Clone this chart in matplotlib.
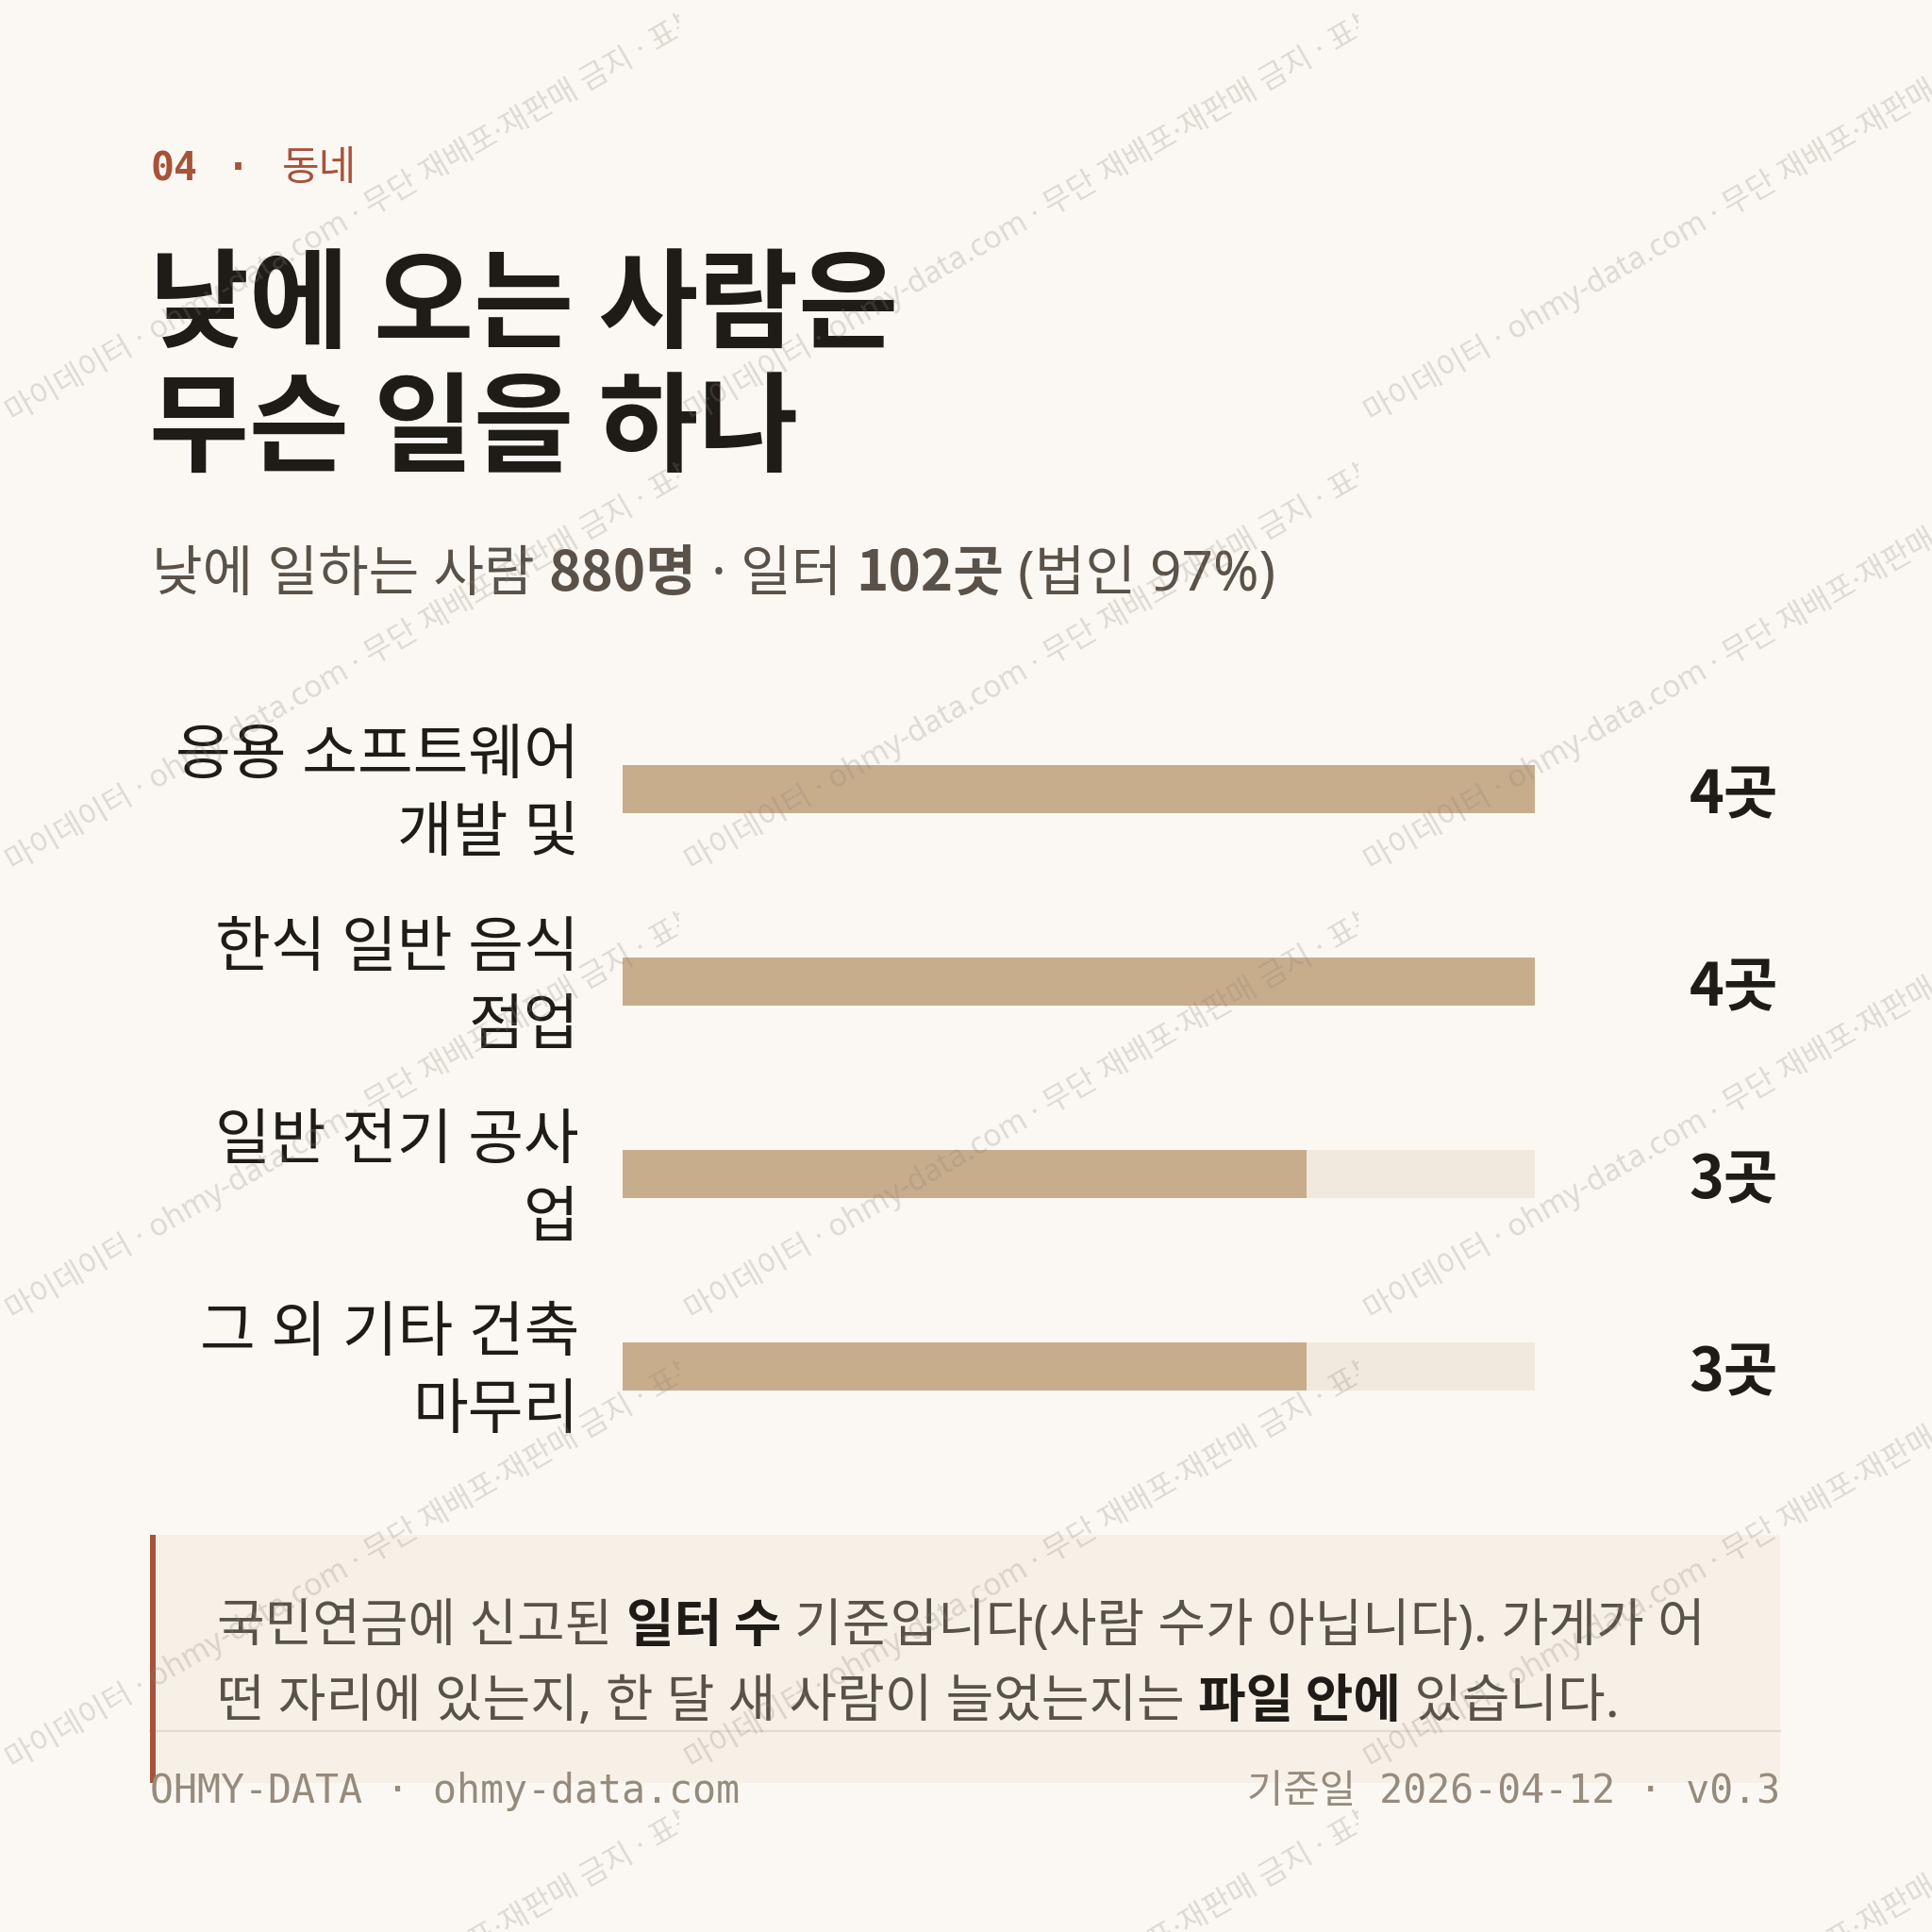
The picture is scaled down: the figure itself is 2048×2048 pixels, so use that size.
import matplotlib
matplotlib.use("Agg")
import matplotlib.pyplot as plt
import matplotlib.transforms as mtransforms
from matplotlib.patches import Rectangle
from matplotlib.lines import Line2D

# ---------------- data ----------------
categories = ["응용 소프트웨어\n개발 및", "한식 일반 음식\n점업", "일반 전기 공사\n업", "그 외 기타 건축\n마무리"]
counts = [4, 4, 3, 3]
unit = "곳"
header_num = "04"
header_sep = "·"
header_txt = "동네"
title_lines = ["낮에 오는 사람은", "무슨 일을 하나"]
subtitle_parts = [("낮에 일하는 사람 ", "normal"), ("880명", "bold"), (" · 일터 ", "normal"),
                  ("102곳", "bold"), (" (법인 97%)", "normal")]
note_line1 = [("국민연금에 신고된 ", "normal"), ("일터 수", "bold"), (" 기준입니다(사람 수가 아닙니다). 가게가 어", "normal")]
note_line2 = [("떤 자리에 있는지, 한 달 새 사람이 늘었는지는 ", "normal"), ("파일 안에", "bold"), (" 있습니다.", "normal")]
footer_left = "OHMY-DATA · ohmy-data.com"
footer_right = "기준일 2026-04-12 · v0.3"
watermark = "마이데이터 · ohmy-data.com · 무단 재배포·재판매 금지 · 표본 데이터"

# ---------------- style ----------------
BG = "#FBF8F3"
BAR = "#C8AD8C"
TRACK = "#F1E9DD"
INK = "#1F1B17"
GRAY = "#5A5248"
ACCENT = "#A8523A"
NOTE_BG = "#F7F0E6"
FOOT = "#968B7C"
KR = ["Noto Sans", "Noto Sans CJK KR"]      # regular (narrow middle dot)
KRB = ["Noto Sans CJK KR"]                   # bold (CJK font carries bold digits)
MONO = ["DejaVu Sans Mono", "Noto Sans CJK KR"]

W = H = 2048
fig = plt.figure(figsize=(20.48, 20.48), dpi=100)
fig.patch.set_facecolor(BG)
renderer = fig.canvas.get_renderer()


def fx(x):
    return x / W


def fy(y):
    return 1 - y / H


def text_width(s, **kw):
    a = fig.text(0, 0, "|" + s + "|", **kw)
    b = fig.text(0, 0, "||", **kw)
    w = a.get_window_extent(renderer).width - b.get_window_extent(renderer).width
    a.remove()
    b.remove()
    return w


def runs(x, y, parts, size, colors):
    cur = x
    for (s, weight) in parts:
        fam = KRB if weight == "bold" else KR
        kw = dict(fontsize=size, weight=weight, family=fam)
        fig.text(fx(cur), fy(y), s, color=colors[weight], va="baseline", ha="left", **kw)
        cur += text_width(s, **kw)


# header
fig.text(fx(159), fy(191), header_num, family=MONO, weight="bold", fontsize=30,
         color=ACCENT, va="baseline")
fig.text(fx(252), fy(191), header_sep, family=MONO, weight="bold", fontsize=30,
         color=ACCENT, va="baseline", ha="center")
fig.text(fx(299), fy(191), header_txt, family=KR, fontsize=31, color=ACCENT, va="baseline")

# title
for i, line in enumerate(title_lines):
    fig.text(fx(158), fy(360 + i * 131), line, family=KRB, weight="bold", fontsize=83,
             color=INK, va="baseline")

# subtitle
runs(161, 626, subtitle_parts, 42, {"normal": GRAY, "bold": GRAY})

# ---------------- bars ----------------
ax = fig.add_axes([fx(660), fy(1550), (1627 - 660) / W, 816 / H])
ax.set_facecolor("none")
idx = list(range(len(categories)))
vmax = max(counts)
ax.barh(idx, [vmax] * len(idx), height=0.25, color=TRACK, zorder=1)
ax.barh(idx, counts, height=0.25, color=BAR, zorder=2)
ax.set_xlim(0, vmax)
ax.set_ylim(len(idx) - 0.5, -0.5)
ax.axis("off")

trans = mtransforms.blended_transform_factory(fig.transFigure, ax.transData)
DOWN = 8 * 0.72
for i, (cat, v) in enumerate(zip(categories, counts)):
    lines = cat.split("\n")
    n = len(lines)
    for j, ln in enumerate(lines):
        off = (j - (n - 1) / 2) * 82 * 0.72
        ax.annotate(ln, xy=(fx(614), i), xycoords=trans, xytext=(0, -off - DOWN),
                    textcoords="offset points", ha="right", va="center",
                    family=KR, fontsize=46, color=INK, annotation_clip=False)
    ax.annotate(f"{v}{unit}", xy=(fx(1885), i), xycoords=trans, xytext=(0, -DOWN),
                textcoords="offset points", ha="right", va="center",
                family=KRB, weight="bold", fontsize=45, color=INK, annotation_clip=False)

# ---------------- note box ----------------
fig.patches.append(Rectangle((fx(159), fy(1890)), (1887 - 159) / W, (1890 - 1627) / H,
                             transform=fig.transFigure, facecolor=NOTE_BG, edgecolor="none", zorder=0))
fig.patches.append(Rectangle((fx(159), fy(1890)), 6 / W, (1890 - 1627) / H,
                             transform=fig.transFigure, facecolor=ACCENT, edgecolor="none", zorder=1))
fig.lines.append(Line2D([fx(159), fx(1887)], [fy(1835), fy(1835)], transform=fig.transFigure,
                        color="#E4DCCE", lw=1.6, zorder=1))

runs(230, 1740, note_line1, 39.6, {"normal": GRAY, "bold": INK})
runs(230, 1820, note_line2, 39.6, {"normal": GRAY, "bold": INK})

# footer
fig.text(fx(159), fy(1911), footer_left, family=MONO, fontsize=30, color=FOOT, va="baseline")
fig.text(fx(1887), fy(1911), footer_right, family=MONO, fontsize=30, color=FOOT,
         va="baseline", ha="right")

# ---------------- watermark ----------------
TW, TH = 720, 476
for col in range(-1, 3):
    for row in range(-1, 5):
        tx, ty = col * TW, row * TH
        t = fig.text(fx(tx + 14), fy(ty + 448), watermark, family=KR, fontsize=23.3,
                     color="#8A8278", alpha=0.26, rotation=30, rotation_mode="anchor",
                     ha="left", va="baseline", zorder=20)
        clip = mtransforms.TransformedBbox(
            mtransforms.Bbox.from_extents(fx(tx), fy(ty + TH), fx(tx + TW), fy(ty)),
            fig.transFigure)
        t.set_clip_box(clip)
        t.set_clip_on(True)

fig.savefig("out.png", dpi=100, facecolor=BG)
